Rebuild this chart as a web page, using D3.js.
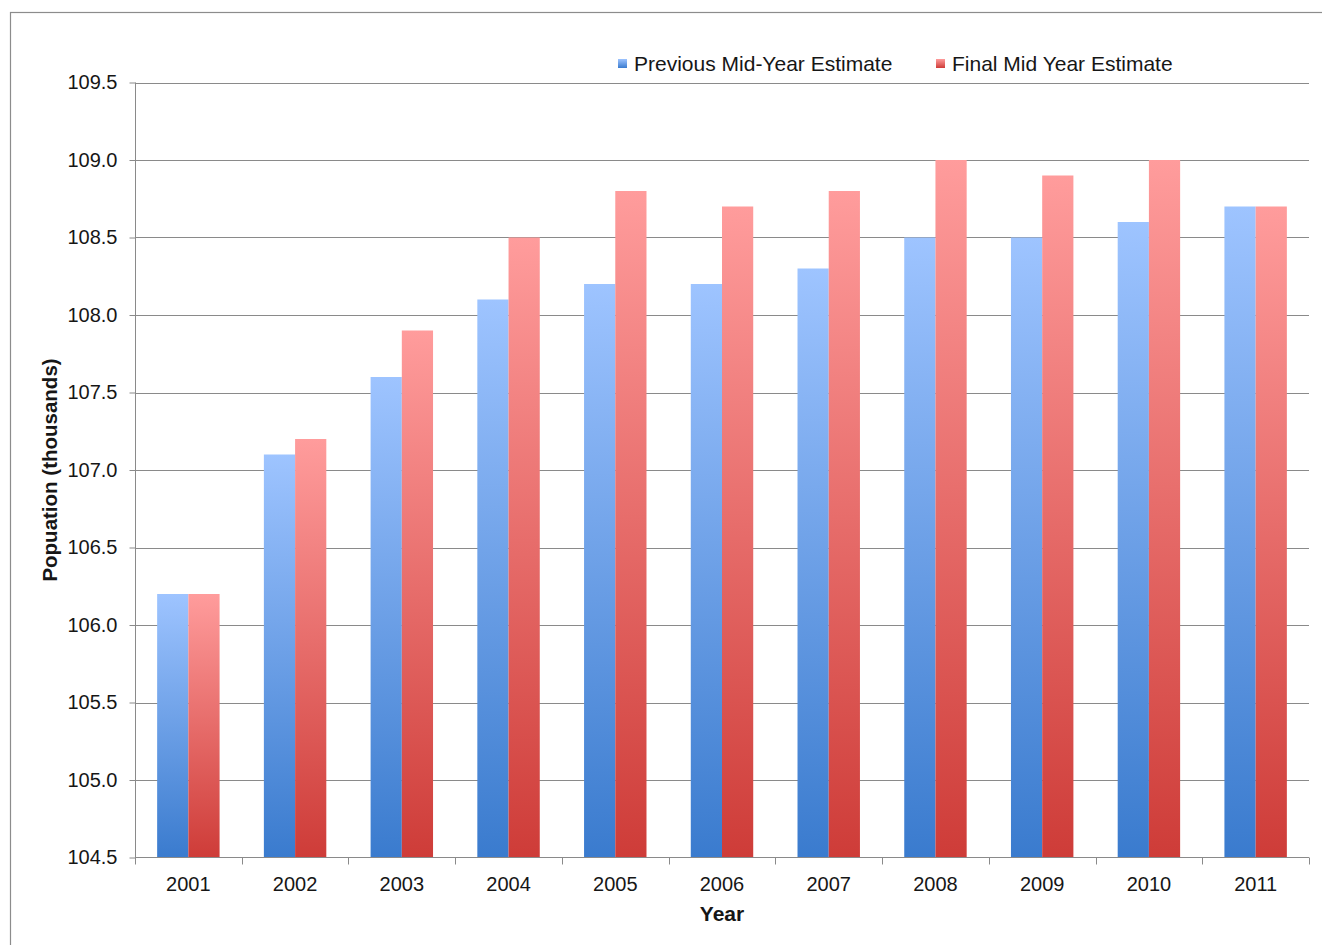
<!DOCTYPE html>
<html>
<head>
<meta charset="utf-8">
<script src="https://cdn.jsdelivr.net/npm/d3@7"></script>
<style>
  html, body { margin: 0; padding: 0; background: #fff; }
  svg { display: block; font-family: "Liberation Sans", Arial, sans-serif; }
</style>
</head>
<body>
<svg id="chart" width="1322" height="945"></svg>
<script>
const years = ["2001","2002","2003","2004","2005","2006","2007","2008","2009","2010","2011"];
const previousEstimate = [106.2, 107.1, 107.6, 108.1, 108.2, 108.2, 108.3, 108.5, 108.5, 108.6, 108.7];
const finalEstimate    = [106.2, 107.2, 107.9, 108.5, 108.8, 108.7, 108.8, 109.0, 108.9, 109.0, 108.7];
const seriesNames = ["Previous Mid-Year Estimate", "Final Mid Year Estimate"];
const yTicks = [104.5, 105.0, 105.5, 106.0, 106.5, 107.0, 107.5, 108.0, 108.5, 109.0, 109.5];

const svg = d3.select("#chart");
const plotLeft = 135, plotRight = 1309, plotTop = 82.5, plotBottom = 857.5;
const textColor = "#161616";

// outer border
svg.append("rect").attr("x", 10.5).attr("y", 12.5).attr("width", 1330).attr("height", 1000)
  .attr("fill", "none").attr("stroke", "#8c8c8c").attr("stroke-width", 1.2);

// gradients
const defs = svg.append("defs");
const grads = [
  {id: "gBlue", c0: "#9EC4FF", c1: "#3A7BCE"},
  {id: "gRed", c0: "#FF9C9C", c1: "#CE3C38"}
];
grads.forEach(g => {
  const lg = defs.append("linearGradient").attr("id", g.id).attr("x1", 0).attr("y1", 0).attr("x2", 0).attr("y2", 1);
  lg.append("stop").attr("offset", "0%").attr("stop-color", g.c0);
  lg.append("stop").attr("offset", "100%").attr("stop-color", g.c1);
});

const y = d3.scaleLinear().domain([104.5, 109.5]).range([plotBottom, plotTop]);
const x0 = d3.scaleBand().domain(years).range([plotLeft, plotRight]).paddingInner(0.415).paddingOuter(0.2075);
const x1 = d3.scaleBand().domain([0, 1]).range([0, x0.bandwidth()]);

// gridlines
svg.append("g").selectAll("line").data(yTicks.filter(t => t > 104.5)).join("line")
  .attr("x1", plotLeft).attr("x2", plotRight)
  .attr("y1", d => Math.round(y(d)) + 0.5).attr("y2", d => Math.round(y(d)) + 0.5)
  .attr("stroke", "#8a8a8a").attr("stroke-width", 1);

// bars
const data = years.map((yr, i) => ({yr, vals: [previousEstimate[i], finalEstimate[i]]}));
const groups = svg.append("g").selectAll("g").data(data).join("g")
  .attr("transform", d => `translate(${x0(d.yr)},0)`);
groups.selectAll("rect").data(d => d.vals.map((v, k) => ({v, k}))).join("rect")
  .attr("x", d => x1(d.k))
  .attr("width", x1.bandwidth())
  .attr("y", d => y(d.v))
  .attr("height", d => y(104.5) - y(d.v))
  .attr("fill", d => d.k === 0 ? "url(#gBlue)" : "url(#gRed)");

// y axis
const yAxis = d3.axisLeft(y).tickValues(yTicks).tickFormat(d3.format(".1f")).tickSize(6).tickPadding(12);
const gy = svg.append("g").attr("transform", `translate(${plotLeft + 0.5},0)`).call(yAxis);
gy.select(".domain").attr("stroke", "#8a8a8a").attr("d", `M0,${plotTop}V${plotBottom}`);
gy.selectAll(".tick line").attr("stroke", "#8a8a8a");
gy.selectAll(".tick text").attr("font-size", 20).attr("fill", textColor).attr("font-family", "Liberation Sans, Arial, sans-serif");

// x axis
const xAxis = d3.axisBottom(x0).tickSize(0).tickPadding(19);
const gx = svg.append("g").attr("transform", `translate(0,${plotBottom})`).call(xAxis);
gx.select(".domain").attr("stroke", "#8a8a8a").attr("d", `M${plotLeft},0H${plotRight}`);
gx.selectAll(".tick text").attr("font-size", 20).attr("fill", textColor).attr("font-family", "Liberation Sans, Arial, sans-serif");
// boundary ticks
const step = x0.step();
const boundaries = d3.range(years.length + 1).map(i => plotLeft + i * step);
gx.append("g").selectAll("line").data(boundaries).join("line")
  .attr("x1", d => Math.round(d) + 0.5).attr("x2", d => Math.round(d) + 0.5)
  .attr("y1", 0).attr("y2", 7).attr("stroke", "#8a8a8a");

// axis titles
svg.append("text").attr("x", (plotLeft + plotRight) / 2).attr("y", 921).attr("text-anchor", "middle")
  .attr("font-size", 21).attr("font-weight", "bold").attr("fill", textColor).text("Year");
svg.append("text").attr("transform", "translate(57,470) rotate(-90)").attr("text-anchor", "middle")
  .attr("font-size", 20.5).attr("font-weight", "bold").attr("fill", textColor).text("Popuation (thousands)");

// legend
const legendX = [618, 936];
const legend = svg.append("g");
seriesNames.forEach((name, i) => {
  legend.append("rect").attr("x", legendX[i]).attr("y", 59).attr("width", 9).attr("height", 9)
    .attr("fill", i === 0 ? "url(#gBlue)" : "url(#gRed)");
  legend.append("text").attr("x", legendX[i] + 16).attr("y", 71).attr("font-size", 21)
    .attr("fill", textColor).text(name);
});
</script>
</body>
</html>
